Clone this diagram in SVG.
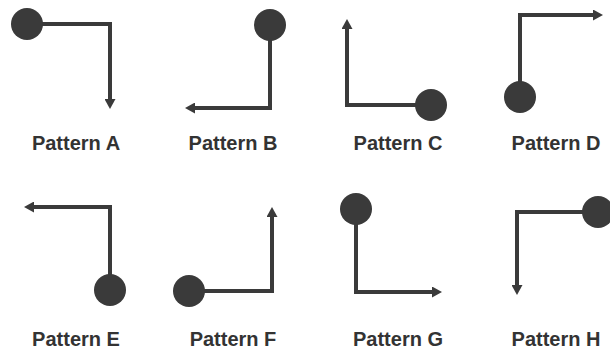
<svg xmlns="http://www.w3.org/2000/svg" width="610" height="354" viewBox="0 0 610 354">
  <style>
    .wire { fill: none; stroke: #3a3a3a; stroke-width: 4; stroke-linejoin: miter; stroke-linecap: butt; marker-end: url(#head); }
    .dot { fill: #3a3a3a; }
    .label { font-family: "Liberation Sans", Arial, sans-serif; font-weight: bold; font-size: 20px; fill: #333333; text-anchor: middle; }
  </style>
  <defs>
    <marker id="head" viewBox="0 0 10 11" markerWidth="10" markerHeight="11" markerUnits="userSpaceOnUse" refX="0" refY="5.5" orient="auto">
      <path d="M0,0 L10,5.5 L0,11 z" fill="#3a3a3a"/>
    </marker>
  </defs>
  <rect width="610" height="354" fill="#ffffff"/>

  <!-- elbow connectors, each starting at its dot -->
  <g id="connectors">
    <path class="wire" d="M27,24 H110 V99"/>
    <path class="wire" d="M270,25 V108 H195"/>
    <path class="wire" d="M431,105 H347 V29"/>
    <path class="wire" d="M520,97 V15 H593"/>
    <path class="wire" d="M110,290 V207 H34"/>
    <path class="wire" d="M189,291 H272 V217"/>
    <path class="wire" d="M356,209 V292 H432"/>
    <path class="wire" d="M598,212 H517 V285"/>
  </g>

  <g id="pattern-a">
    <circle class="dot" cx="27" cy="24" r="16"/>
    <text class="label" x="76" y="150">Pattern A</text>
  </g>
  <g id="pattern-b">
    <circle class="dot" cx="270" cy="25" r="16"/>
    <text class="label" x="233" y="150">Pattern B</text>
  </g>
  <g id="pattern-c">
    <circle class="dot" cx="431" cy="105" r="16"/>
    <text class="label" x="398" y="150">Pattern C</text>
  </g>
  <g id="pattern-d">
    <circle class="dot" cx="520" cy="97" r="16"/>
    <text class="label" x="556" y="150">Pattern D</text>
  </g>
  <g id="pattern-e">
    <circle class="dot" cx="110" cy="290" r="16"/>
    <text class="label" x="76" y="346">Pattern E</text>
  </g>
  <g id="pattern-f">
    <circle class="dot" cx="189" cy="291" r="16"/>
    <text class="label" x="233" y="346">Pattern F</text>
  </g>
  <g id="pattern-g">
    <circle class="dot" cx="356" cy="209" r="16"/>
    <text class="label" x="398" y="346">Pattern G</text>
  </g>
  <g id="pattern-h">
    <circle class="dot" cx="598" cy="212" r="16"/>
    <text class="label" x="556" y="346">Pattern H</text>
  </g>
</svg>
